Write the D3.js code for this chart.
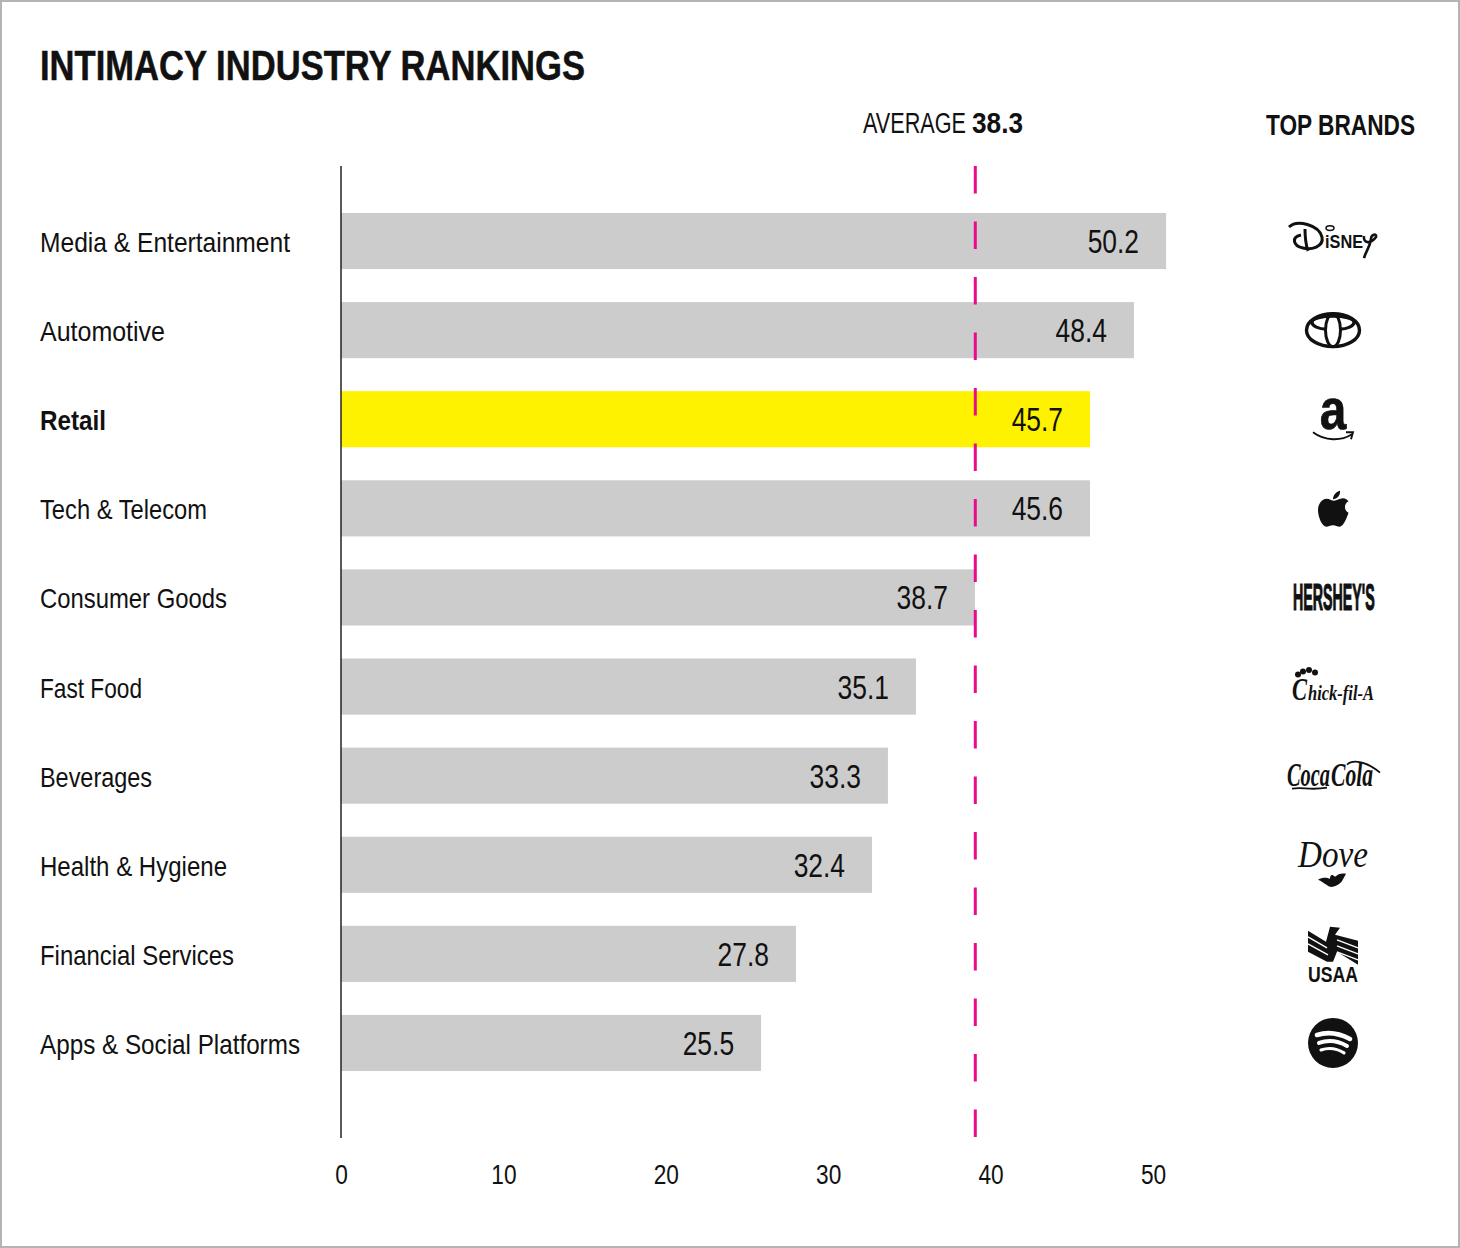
<!DOCTYPE html>
<html>
<head>
<meta charset="utf-8">
<script src="https://cdn.jsdelivr.net/npm/d3@7"></script>
<style>
html, body { margin: 0; padding: 0; background: #fff; }
svg { display: block; }
text { font-family: "Liberation Sans", sans-serif; fill: #111; }
</style>
</head>
<body>
<div id="chart"></div>
<script>
var categories = ["Media & Entertainment", "Automotive", "Retail", "Tech & Telecom", "Consumer Goods",
	"Fast Food", "Beverages", "Health & Hygiene", "Financial Services", "Apps & Social Platforms"];
// printed values
var values = [50.2, 48.4, 45.7, 45.6, 38.7, 35.1, 33.3, 32.4, 27.8, 25.5];
// bar lengths, they don't follow the printed values exactly
var barValues = [50.34, 48.38, 45.7, 45.7, 38.68, 35.08, 33.37, 32.4, 27.76, 25.63];
var brands = ["Disney", "Toyota", "Amazon", "Apple", "Hershey's", "Chick-fil-A", "Coca-Cola", "Dove", "USAA", "Spotify"];
var tickValues = [0, 10, 20, 30, 40, 50];
var highlight = "Retail";
var average = 38.3;
// the printed dashed line sits at the end of the Consumer Goods bar, not at 38.3
var averageDrawnAt = 38.7;
// no condensed font here, so labels are squeezed to these widths
var labelWidths = [250, 125, 66, 167, 187, 102, 112, 187, 194, 260];

var width = 1460, height = 1248;

var svg = d3.select("#chart").append("svg")
	.attr("width", width)
	.attr("height", height);

// frame
svg.append("rect")
	.attr("x", 1).attr("y", 1)
	.attr("width", width - 2).attr("height", height - 2)
	.style("fill", "#fff")
	.style("stroke", "#b3b3b3")
	.style("stroke-width", 2);

// bars are a little longer per unit than the printed axis labels are spaced
var x = d3.scaleLinear().domain([0, 50]).range([341, 1160.5]);
var xTicks = d3.scaleLinear().domain([0, 50]).range([341, 1153]);
var y = d3.scaleBand().domain(categories).range([180, 1104]).padding(0.37);

// narrow a text to k of its natural width
function squeeze(sel, k) {
	sel.each(function() {
		d3.select(this)
			.attr("textLength", this.getComputedTextLength() * k)
			.attr("lengthAdjust", "spacingAndGlyphs");
	});
}

// place a text at px,py and scale it sideways to w pixels
function fit(sel, px, py, w) {
	sel.each(function() {
		d3.select(this).attr("transform", "translate(" + px + "," + py + ") scale(" + (w / this.getComputedTextLength()) + ",1)");
	});
}

// title + headers
svg.append("text")
	.attr("x", 40).attr("y", 80)
	.attr("textLength", 545).attr("lengthAdjust", "spacingAndGlyphs")
	.style("font-size", "43px").style("font-weight", "bold")
	.style("stroke", "#111").style("stroke-width", 0.5)
	.text("INTIMACY INDUSTRY RANKINGS");

svg.append("text")
	.style("font-size", "29px")
	.text("AVERAGE")
	.call(fit, 863, 133, 103);
svg.append("text")
	.style("font-size", "29px").style("font-weight", "bold")
	.text(average.toFixed(1))
	.call(fit, 972, 133, 51);

svg.append("text")
	.attr("x", 1266).attr("y", 135)
	.attr("textLength", 149).attr("lengthAdjust", "spacingAndGlyphs")
	.style("font-size", "29px").style("font-weight", "bold")
	.text("TOP BRANDS");

// bars
svg.selectAll("rect.bar")
	.data(categories)
	.enter().append("rect")
	.attr("class", "bar")
	.attr("x", x(0))
	.attr("y", function(d) { return y(d); })
	.attr("width", function(d, i) { return x(barValues[i]) - x(0); })
	.attr("height", y.bandwidth())
	.style("fill", function(d) { return d == highlight ? "#fff200" : "#cccccc"; });

// zero line
svg.append("line")
	.attr("x1", x(0)).attr("x2", x(0))
	.attr("y1", 166).attr("y2", 1138)
	.style("stroke", "#222")
	.style("stroke-width", 1.5);

// average line
svg.append("line")
	.attr("x1", x(averageDrawnAt)).attr("x2", x(averageDrawnAt))
	.attr("y1", 166).attr("y2", 1139)
	.style("stroke", "#ec0a8c")
	.style("stroke-width", 3)
	.style("stroke-dasharray", "27.5,28");

// category labels
svg.selectAll("text.cat")
	.data(categories)
	.enter().append("text")
	.attr("class", "cat")
	.attr("x", 40)
	.attr("y", function(d) { return y(d) + y.bandwidth() / 2 + 11; })
	.attr("textLength", function(d, i) { return labelWidths[i]; })
	.attr("lengthAdjust", "spacingAndGlyphs")
	.style("font-size", "28px")
	.style("font-weight", function(d) { return d == highlight ? "bold" : "normal"; })
	.text(function(d) { return d; });

// value labels
svg.selectAll("text.val")
	.data(categories)
	.enter().append("text")
	.attr("class", "val")
	.attr("x", function(d, i) { return x(barValues[i]) - 27; })
	.attr("y", function(d) { return y(d) + y.bandwidth() / 2 + 12; })
	.style("text-anchor", "end")
	.style("font-size", "33px")
	.text(function(d, i) { return values[i].toFixed(1); })
	.call(squeeze, 0.8);

// axis
var xAxis = d3.axisBottom(xTicks)
	.tickValues(tickValues)
	.tickSize(0)
	.tickPadding(0)
	.tickFormat(d3.format("d"));

var axisG = svg.append("g")
	.attr("transform", "translate(0,1165)")
	.call(xAxis);
axisG.select(".domain").remove();
axisG.selectAll("text")
	.attr("y", 0).attr("dy", "0.71em")
	.style("font-family", "\"Liberation Sans\", sans-serif")
	.style("font-size", "27px")
	.style("fill", "#111")
	.call(squeeze, 0.84);

// logos, each drawn around (0,0) in its row
var serif = "\"Liberation Serif\", serif";
var logos = {
	"Disney": function(g) {
		g.append("path")
			.attr("d", "M-44,-14 C-36,-22 -14,-16 -11,-4 C-9,6 -22,9 -30,7 C-40,5 -42,-4 -32,-6 M-28,-12 C-28,-3 -27,4 -25,10")
			.style("fill", "none").style("stroke", "#111").style("stroke-width", 3);
		g.append("ellipse").attr("cx", -3).attr("cy", -13).attr("rx", 4).attr("ry", 2.4)
			.style("fill", "none").style("stroke", "#111").style("stroke-width", 1.5);
		g.append("text").attr("x", -8).attr("y", 7)
			.attr("textLength", 38).attr("lengthAdjust", "spacingAndGlyphs")
			.style("font-size", "18px").style("font-weight", "bold")
			.text("iSNE");
		g.append("path")
			.attr("d", "M31,-5 C30,3 38,3 43,-4 C44,-8 38,-7 38,-2 C37,6 33,10 31,17")
			.style("fill", "none").style("stroke", "#111").style("stroke-width", 2.6);
	},
	"Toyota": function(g) {
		g.append("ellipse").attr("rx", 26.5).attr("ry", 16.5)
			.style("fill", "none").style("stroke", "#111").style("stroke-width", 3.4);
		g.append("ellipse").attr("rx", 7.5).attr("ry", 16.5)
			.style("fill", "none").style("stroke", "#111").style("stroke-width", 3);
		g.append("path")
			.attr("d", "M-7,-1 C-14,-1 -21,-4 -21,-8 C-21,-12 -10,-14 0,-14 C10,-14 21,-12 21,-8 C21,-4 14,-1 7,-1")
			.style("fill", "none").style("stroke", "#111").style("stroke-width", 3.2);
	},
	"Amazon": function(g) {
		g.append("text").attr("x", 0).attr("y", 9)
			.attr("transform", "scale(0.92,1.12)")
			.style("text-anchor", "middle")
			.style("font-size", "52px").style("font-weight", "bold")
			.style("stroke", "#111").style("stroke-width", 0.6)
			.text("a");
		g.append("path")
			.attr("d", "M-20,13 C-8,22 8,22 19,15 M13,13 L20,13 L18,20")
			.style("fill", "none").style("stroke", "#111").style("stroke-width", 1.9);
	},
	"Apple": function(g) {
		g.append("path")
			.attr("transform", "translate(0,2)")
			.attr("d", "M1,-9.5 C4,-9.5 6,-12 10,-12 C12.5,-12 14.5,-10.5 15.5,-9 C11,-6.5 10.5,-0.5 15.5,2.5 C14,7 10.5,16.5 6.5,16.5 C4,16.5 3,15 0,15 C-3,15 -4.5,16.5 -6.5,16.5 C-11,16.5 -15,6.5 -15,0 C-15,-7 -10.5,-11.5 -6.5,-11.5 C-3.5,-11.5 -1.5,-9.5 1,-9.5 Z M0,-11 C0,-15 3,-18.5 7,-19.5 C7.5,-15 4.5,-11.5 0,-11 Z")
			.style("fill", "#111");
	},
	"Hershey's": function(g) {
		g.append("text")
			.attr("transform", "translate(-40,13) scale(0.385,1)")
			.style("font-size", "37px").style("font-weight", "bold")
			.style("stroke", "#111").style("stroke-width", 1.2)
			.text("HERSHEY'S");
	},
	"Chick-fil-A": function(g) {
		g.append("text")
			.style("font-family", serif).style("font-size", "32px").style("font-weight", "bold").style("font-style", "italic")
			.text("C")
			.call(fit, -41, 13, 15);
		g.append("text")
			.style("font-family", serif).style("font-size", "20px").style("font-weight", "bold").style("font-style", "italic")
			.text("hick-fil-A")
			.call(fit, -25, 13, 66);
		[[-35, -12], [-30, -15], [-24, -16.5], [-18, -14]].forEach(function(p) {
			g.append("circle").attr("cx", p[0]).attr("cy", p[1]).attr("r", 3).style("fill", "#111");
		});
	},
	"Coca-Cola": function(g) {
		g.append("text")
			.style("font-family", serif).style("font-size", "34px").style("font-weight", "bold").style("font-style", "italic")
			.text("Coca")
			.call(fit, -46, 10, 43);
		g.append("text")
			.style("font-family", serif).style("font-size", "34px").style("font-weight", "bold").style("font-style", "italic")
			.text("Cola")
			.call(fit, -2, 10, 42);
		g.append("path")
			.attr("d", "M-41,13 C-30,11 -24,15 -6,12 M14,-11 C20,-17 34,-14 47,-3")
			.style("fill", "none").style("stroke", "#111").style("stroke-width", 1.8);
	},
	"Dove": function(g) {
		g.append("text").attr("x", -35).attr("y", 2)
			.attr("textLength", 70).attr("lengthAdjust", "spacingAndGlyphs")
			.style("font-family", serif).style("font-size", "37px").style("font-style", "italic")
			.text("Dove");
		g.append("path")
			.attr("d", "M-15,15 C-10,12 -6,13 -3,14 C-3,10 -1,9 2,12 C5,9 9,8 13,9 C10,14 9,20 0,22 C-5,23 -8,18 -15,15 Z")
			.style("fill", "#111");
	},
	"USAA": function(g) {
		g.append("path")
			.attr("d", "M-25,-23 L-7,-12 L-3,-27 L7,-26 L2,-19 L25,-13 L25,11 L4,-2 L0,8 L-6,8 L-25,-2 Z")
			.style("fill", "#111");
		[[-25, -17, -6, -6], [-25, -10, -5, 1], [4, -14, 25, -6], [4, -8, 25, 0], [4, -2, 25, 6]].forEach(function(l) {
			g.append("line").attr("x1", l[0]).attr("y1", l[1]).attr("x2", l[2]).attr("y2", l[3])
				.style("stroke", "#fff").style("stroke-width", 1.4);
		});
		g.append("text").attr("x", -25).attr("y", 28)
			.attr("textLength", 50).attr("lengthAdjust", "spacingAndGlyphs")
			.style("font-size", "22px").style("font-weight", "bold")
			.text("USAA");
	},
	"Spotify": function(g) {
		g.append("circle").attr("r", 25).style("fill", "#111");
		[["M-16,-8 Q0,-13 17,-4", 4.6], ["M-14,0 Q0,-5 14,3", 4], ["M-12,7 Q0,3 11,10", 3.2]].forEach(function(a) {
			g.append("path").attr("d", a[0])
				.style("fill", "none").style("stroke", "#fff").style("stroke-width", a[1]).style("stroke-linecap", "round");
		});
	}
};

brands.forEach(function(b, i) {
	var g = svg.append("g")
		.attr("class", "logo")
		.attr("transform", "translate(1333," + (y(categories[i]) + y.bandwidth() / 2) + ")");
	logos[b](g);
});
</script>
</body>
</html>
